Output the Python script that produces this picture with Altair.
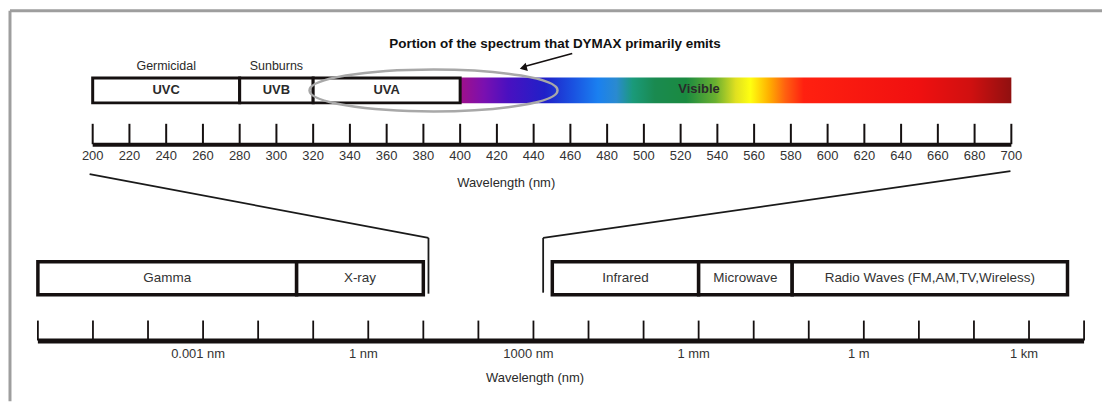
import altair as alt
import pandas as pd

# ---------------- data ----------------
# Upper (UV / visible) spectrum, wavelengths in nm
uv_names = ["UVC", "UVB", "UVA"]
uv_start = [200, 280, 320]
uv_end = [280, 320, 400]
uv_effects = ["Germicidal", "Sunburns", ""]

visible_start = 400
visible_end = 700
visible_label_nm = 530
spectrum_nm = [400, 413, 426, 446, 461, 475, 485, 494, 506, 523, 539, 550, 558, 568, 577, 587, 649, 678, 700]
spectrum_colors = ["#a0108a", "#7a10b0", "#4a10c0", "#2020c8", "#1a50e0", "#1a80f0", "#2a8ad0",
                   "#1a9a7a", "#1a8a50", "#1a8a40", "#6ab030", "#e0e020", "#ffff10", "#ffb000",
                   "#ff6010", "#ff2010", "#f01010", "#d01010", "#901010"]

top_ticks = [200, 220, 240, 260, 280, 300, 320, 340, 360, 380, 400, 420, 440, 460,
             480, 500, 520, 540, 560, 580, 600, 620, 640, 660, 680, 700]

emission_span_nm = [318, 453]     # highlighted portion (ellipse)
arrow_nm = [461, 435]             # arrow from title to ellipse

# Lower (full electromagnetic) spectrum, wavelengths in nm
em_names = ["Gamma", "X-ray", "Infrared", "Microwave", "Radio Waves (FM,AM,TV,Wireless)"]
em_start = [1e-6, 0.05, 2200, 1e6, 5e7]
em_end = [0.05, 10, 1e6, 5e7, 5e12]

bottom_tick_exponents = list(range(-6, 14))
bottom_label_values = [1e-3, 1, 1e3, 1e6, 1e9, 1e12]
bottom_label_texts = ["0.001 nm", "1 nm", "1000 nm", "1 mm", "1 m", "1 km"]

zoom_left_nm = [8.7e-6, 12.4]
zoom_right_nm = [4.6e11, 1500]

# ---------------- layout ----------------
W, H = 1096, 393
FONT = "Liberation Sans"
INK = "#151010"
TXT = "#2a2a2a"

TOP = alt.Scale(domain=[154.99, 749.35], nice=False, zero=False)
BOT = alt.Scale(type="log", domain=[10 ** -6.5067, 10 ** 13.3257], nice=False)
px_per_nm = W / (749.35 - 154.99)

# ---------------- upper panel ----------------
uv_df = pd.DataFrame({"name": uv_names, "start": uv_start, "end": uv_end, "effect": uv_effects})
uv_df["mid"] = (uv_df["start"] + uv_df["end"]) / 2

vis_df = pd.DataFrame({"start": [visible_start], "end": [visible_end],
                       "label": ["Visible"], "lx": [visible_label_nm]})
stops = [{"offset": (w - visible_start) / (visible_end - visible_start), "color": c}
         for w, c in zip(spectrum_nm, spectrum_colors)]
gradient = {"gradient": "linear", "stops": stops, "x1": 0, "x2": 1, "y1": 0, "y2": 0}

xs = lambda f: alt.X(f, type="quantitative", scale=TOP, axis=None)

spectrum = alt.Chart(vis_df).mark_rect(color=gradient).encode(
    x=xs("start"), x2="end", y=alt.value(68), y2=alt.value(94))
uv_boxes = alt.Chart(uv_df).mark_rect(fill="white", stroke=INK, strokeWidth=3).encode(
    x=xs("start"), x2="end", y=alt.value(68.5), y2=alt.value(93.5))
uv_labels = alt.Chart(uv_df).mark_text(font=FONT, fontSize=13, fontWeight="bold", color=TXT).encode(
    x=xs("mid"), y=alt.value(81), text="name")
uv_effect_labels = alt.Chart(uv_df).mark_text(font=FONT, fontSize=12.5, color=TXT).encode(
    x=xs("mid"), y=alt.value(57), text="effect")
vis_label = alt.Chart(vis_df).mark_text(font=FONT, fontSize=13, fontWeight="bold", color="#2a2a2a").encode(
    x=xs("lx"), y=alt.value(80), text="label")

ell_df = pd.DataFrame({"c": [(emission_span_nm[0] + emission_span_nm[1]) / 2]})
ell_w = (emission_span_nm[1] - emission_span_nm[0]) * px_per_nm
ry, k = 0.169, 0.5523
ellipse_path = (f"M-1,0 C-1,{-k*ry} {-k},{-ry} 0,{-ry} C{k},{-ry} 1,{-k*ry} 1,0 "
                f"C1,{k*ry} {k},{ry} 0,{ry} C{-k},{ry} -1,{k*ry} -1,0 Z")
ellipse = alt.Chart(ell_df).mark_point(shape=ellipse_path, size=ell_w ** 2, filled=False,
                                       stroke="#a8a8a8", strokeWidth=2.5, opacity=1).encode(
    x=xs("c"), y=alt.value(81))

arr_df = pd.DataFrame({"a": [arrow_nm[0]], "b": [arrow_nm[1]]})
arrow_line = alt.Chart(arr_df).mark_rule(color=INK, strokeWidth=1.6).encode(
    x=xs("a"), x2="b", y=alt.value(44), y2=alt.value(57))
arrow_head = alt.Chart(arr_df).mark_point(shape="triangle", filled=True, size=70, angle=255,
                                          color=INK, opacity=1).encode(
    x=xs("b"), y=alt.value(58))

tick_df = pd.DataFrame({"t": top_ticks, "lab": [str(t) for t in top_ticks]})
top_tick_rules = alt.Chart(tick_df).mark_rule(color=INK, strokeWidth=2).encode(
    x=xs("t"), y=alt.value(114.5), y2=alt.value(135))
top_base = alt.Chart(pd.DataFrame({"a": [top_ticks[0]], "b": [top_ticks[-1]]})).mark_rule(
    color=INK, strokeWidth=4).encode(x=xs("a"), x2="b", y=alt.value(135.5))
top_tick_labels = alt.Chart(tick_df).mark_text(font=FONT, fontSize=13, color="#333").encode(
    x=xs("t"), y=alt.value(147), text="lab")

note_df = pd.DataFrame({"title": ["Portion of the spectrum that DYMAX primarily emits"],
                        "axis": ["Wavelength (nm)"]})
title_text = alt.Chart(note_df).mark_text(font=FONT, fontSize=13.5, fontWeight="bold", color="#111").encode(
    x=alt.value(547), y=alt.value(34), text="title")
top_axis_title = alt.Chart(note_df).mark_text(font=FONT, fontSize=13, color=TXT).encode(
    x=alt.value(498), y=alt.value(174), text="axis")

upper = alt.layer(spectrum, uv_boxes, uv_labels, uv_effect_labels, vis_label, ellipse,
                  arrow_line, arrow_head, top_tick_rules, top_base, top_tick_labels,
                  title_text, top_axis_title)

# ---------------- lower panel ----------------
xb = lambda f: alt.X(f, type="quantitative", scale=BOT, axis=None)

em_df = pd.DataFrame({"name": em_names, "start": em_start, "end": em_end})
em_df["mid"] = (em_df["start"] * em_df["end"]) ** 0.5

em_boxes = alt.Chart(em_df).mark_rect(fill="white", stroke=INK, strokeWidth=3.5).encode(
    x=xb("start"), x2="end", y=alt.value(253), y2=alt.value(286))
em_labels = alt.Chart(em_df).mark_text(font=FONT, fontSize=13.5, color="#333").encode(
    x=xb("mid"), y=alt.value(269), text="name")

zl = pd.DataFrame({"a": [zoom_left_nm[0]], "b": [zoom_left_nm[1]]})
zr = pd.DataFrame({"a": [zoom_right_nm[0]], "b": [zoom_right_nm[1]]})
conn = dict(color="#1a1a1a", strokeWidth=1.8)
left_diag = alt.Chart(zl).mark_rule(**conn).encode(x=xb("a"), x2="b", y=alt.value(165), y2=alt.value(229))
left_vert = alt.Chart(zl).mark_rule(**conn).encode(x=xb("b"), y=alt.value(229), y2=alt.value(285))
right_diag = alt.Chart(zr).mark_rule(**conn).encode(x=xb("a"), x2="b", y=alt.value(162), y2=alt.value(229))
right_vert = alt.Chart(zr).mark_rule(**conn).encode(x=xb("b"), y=alt.value(229), y2=alt.value(284))

btick_df = pd.DataFrame({"t": [10.0 ** e for e in bottom_tick_exponents]})
bottom_ticks = alt.Chart(btick_df).mark_rule(color=INK, strokeWidth=1.8).encode(
    x=xb("t"), y=alt.value(312), y2=alt.value(332))
bottom_base = alt.Chart(pd.DataFrame({"a": [btick_df["t"].min()], "b": [btick_df["t"].max()]})).mark_rule(
    color=INK, strokeWidth=5).encode(x=xb("a"), x2="b", y=alt.value(332.5))
blab_df = pd.DataFrame({"v": bottom_label_values, "lab": bottom_label_texts})
bottom_labels = alt.Chart(blab_df).mark_text(font=FONT, fontSize=13, color="#333", dx=-5).encode(
    x=xb("v"), y=alt.value(346), text="lab")
bottom_axis_title = alt.Chart(note_df).mark_text(font=FONT, fontSize=13, color=TXT).encode(
    x=alt.value(527), y=alt.value(370), text="axis")

lower = alt.layer(em_boxes, em_labels, left_diag, left_vert, right_diag, right_vert,
                  bottom_ticks, bottom_base, bottom_labels, bottom_axis_title)

# ---------------- frame ----------------
one = pd.DataFrame({"k": [0]})
frame_top = alt.Chart(one).mark_rule(color="#9e9e9e", strokeWidth=3).encode(
    x=alt.value(0), x2=alt.value(W), y=alt.value(1))
frame_left = alt.Chart(one).mark_rule(color="#9e9e9e", strokeWidth=3).encode(
    x=alt.value(0), y=alt.value(1), y2=alt.value(H))

chart = alt.layer(frame_top, frame_left, upper, lower).resolve_scale(x="independent").properties(
    width=W, height=H, padding=0, background="white"
).configure_view(stroke=None)

chart.save("out.html", embed_options={"renderer": "svg", "actions": False})
